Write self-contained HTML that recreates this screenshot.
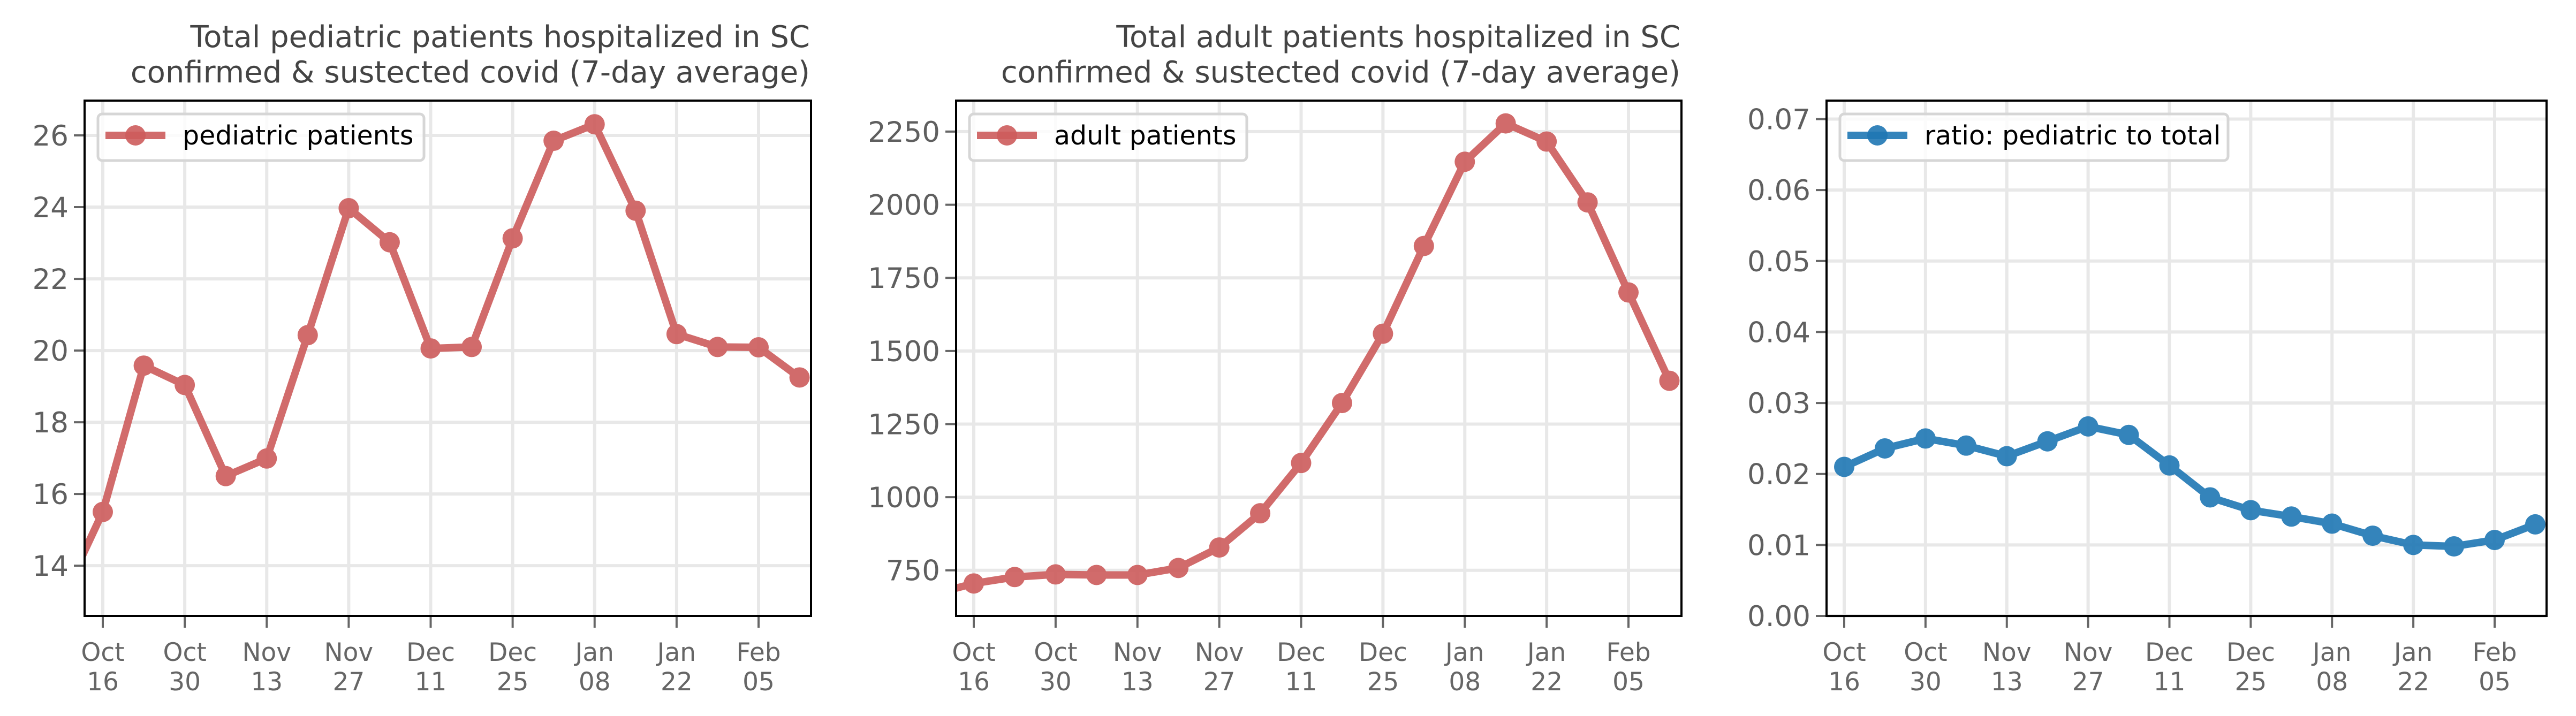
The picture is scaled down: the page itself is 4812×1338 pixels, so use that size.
<!DOCTYPE html>
<html><head><meta charset="utf-8"><style>
body{margin:0;background:#fff}
svg{display:block;font-family:"DejaVu Sans","Liberation Sans",sans-serif}
</style></head><body>
<svg id="fig" width="4812" height="1338" viewBox="0 0 4812 1338" xmlns="http://www.w3.org/2000/svg"></svg>
<script>
const weekLabels=["Oct 09","Oct 16","Oct 23","Oct 30","Nov 06","Nov 13","Nov 20","Nov 27","Dec 04","Dec 11","Dec 18","Dec 25","Jan 01","Jan 08","Jan 15","Jan 22","Jan 29","Feb 05","Feb 12"];
const pediatricValues=[13.05,15.50,19.58,19.04,16.50,16.99,20.43,23.97,23.02,20.06,20.10,23.13,25.85,26.31,23.90,20.46,20.10,20.09,19.25];
const adultValues=[668,705,727,736,734,734,758,828,945,1117,1322,1559,1859,2147,2278,2216,2008,1700,1398];
const ratioValues=[null,0.0210,0.0236,0.0250,0.0240,0.0225,0.0246,0.0267,0.0255,0.0212,0.0167,0.0149,0.0140,0.0130,0.0113,0.0100,0.0098,0.0107,0.0129];
const xTickTop=["Oct","Oct","Nov","Nov","Dec","Dec","Jan","Jan","Feb"];
const xTickBottom=["16","30","13","27","11","25","08","22","05"];
const pedTicks=[14,16,18,20,22,24,26];
const adultTicks=[750,1000,1250,1500,1750,2000,2250];
const ratioTicks=[0,0.01,0.02,0.03,0.04,0.05,0.06,0.07];

const NS="http://www.w3.org/2000/svg";
const svg=document.getElementById('fig');
function mk(tag,attrs,parent){const e=document.createElementNS(NS,tag);for(const k in attrs)e.setAttribute(k,attrs[k]);(parent||svg).appendChild(e);return e;}

function panel(o){
  const g=mk('g',{});
  
  
  const top=188,bot=1151;
  const pxDay=(o.xFeb-o.x0)/112;
  const xs=i=>o.x0+(i-1)*7*pxDay;
  const ys=v=>top+(o.yMax-v)/(o.yMax-o.yMin)*(bot-top);
  const cp=mk('clipPath',{id:'c'+o.name},g);
  mk('rect',{x:o.L,y:top,width:o.R-o.L,height:bot-top},cp);
  for(let k=0;k<9;k++){const x=xs(1+2*k);
    const l=mk('line',{x1:x,x2:x,y1:top,y2:bot,stroke:'#e8e8e8','stroke-width':6},g);
    }
  o.ticks.forEach(t=>{const y=ys(t);
    const l=mk('line',{x1:o.L,x2:o.R,y1:y,y2:y,stroke:'#e8e8e8','stroke-width':6},g);
    
    mk('line',{x1:o.L-20,x2:o.L,y1:y,y2:y,stroke:'#666','stroke-width':4},g);
    const tx=mk('text',{x:o.L-30,y:y+19,'text-anchor':'end','font-size':53,fill:'#5f5f5f'},g);
    tx.textContent=o.fmt(t);
    
  });
  for(let k=0;k<9;k++){const x=xs(1+2*k);
    mk('line',{x1:x,x2:x,y1:bot,y2:bot+22,stroke:'#666','stroke-width':4},g);
    const t1=mk('text',{x:x,y:1235,'text-anchor':'middle','font-size':47,fill:'#666'},g);
    t1.textContent=xTickTop[k];
    
    const t2=mk('text',{x:x,y:1290,'text-anchor':'middle','font-size':47,fill:'#666'},g);
    t2.textContent=xTickBottom[k];
    
  }
  const sg=mk('g',{'clip-path':'url(#c'+o.name+')',opacity:0.9},g);
  
  let d='';o.vals.forEach((v,i)=>{if(v===null)return;d+=(d?'L':'M')+xs(i)+','+ys(v);});
  mk('path',{d:d,fill:'none',stroke:o.color,'stroke-width':14,'stroke-linejoin':'round'},sg);
  o.vals.forEach((v,i)=>{if(v===null)return;
    const c=mk('circle',{cx:xs(i),cy:ys(v),r:19,fill:o.color},sg);
    });
  mk('rect',{x:o.L,y:top,width:o.R-o.L,height:bot-top,fill:'none',stroke:'#000','stroke-width':4},g);
  const lg=mk('g',{},g);
  
  mk('rect',{x:o.L+25,y:213,width:o.legW,height:87,rx:8,fill:'#fff','fill-opacity':0.8,stroke:'#d6d6d6','stroke-width':5},lg);
  mk('line',{x1:o.L+39,x2:o.L+151,y1:253,y2:253,stroke:o.color,'stroke-width':14,opacity:0.9},lg);
  mk('circle',{cx:o.L+95,cy:253,r:19,fill:o.color,opacity:0.9},lg);
  const lt=mk('text',{x:o.L+183,y:270,'font-size':49,fill:'#000'},lg);
  lt.textContent=o.legend;
  if(o.title){o.title.forEach((s,i)=>{
    const t=mk('text',{x:o.R-2,y:[88,154][i],'text-anchor':'end','font-size':56,fill:'#444'},g);
    t.textContent=s;});}
}
panel({name:'pediatric',L:158,R:1515,x0:192,xFeb:1417,yMin:12.6,yMax:26.97,ticks:pedTicks,fmt:t=>String(t),vals:pediatricValues,color:'#cd5c5c',legend:'pediatric patients',legW:609,
  title:['Total pediatric patients hospitalized in SC','confirmed & sustected covid (7-day average)']});
panel({name:'adult',L:1786,R:3141,x0:1819,xFeb:3042,yMin:594,yMax:2356,ticks:adultTicks,fmt:t=>String(t),vals:adultValues,color:'#cd5c5c',legend:'adult patients',legW:518,
  title:['Total adult patients hospitalized in SC','confirmed & sustected covid (7-day average)']});
panel({name:'ratio',L:3412,R:4757,x0:3445,xFeb:4660,yMin:0,yMax:0.0726,ticks:ratioTicks,fmt:t=>t.toFixed(2),vals:ratioValues,color:'#1f77b4',legend:'ratio: pediatric to total',legW:725,title:null});
</script>
</body></html>
